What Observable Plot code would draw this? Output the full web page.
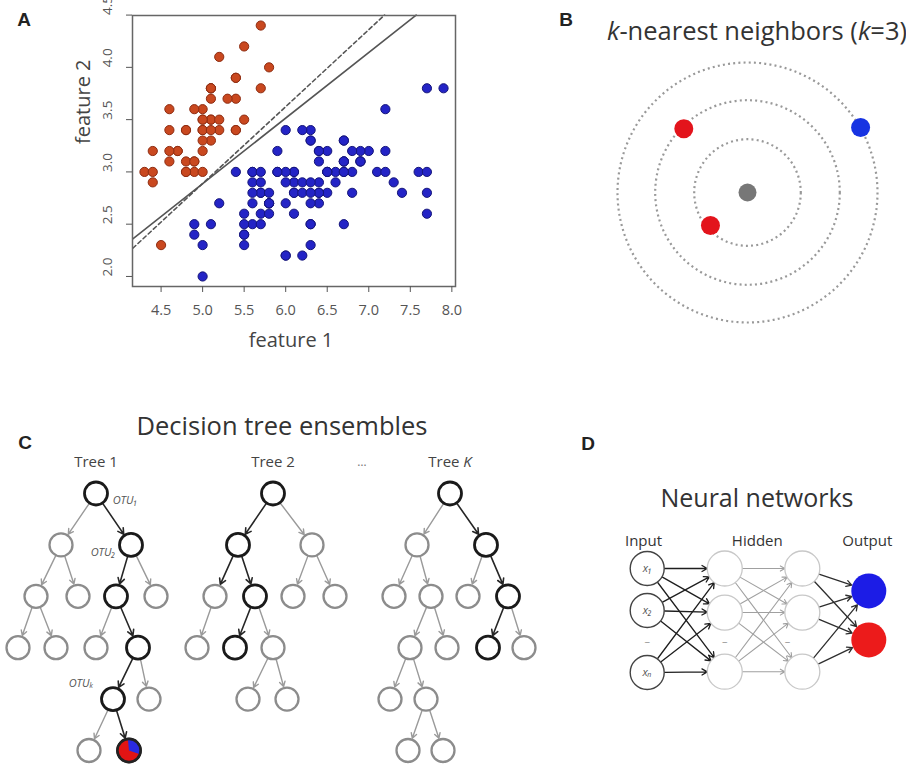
<!DOCTYPE html>
<html>
<head>
<meta charset="utf-8">
<script src="https://cdn.jsdelivr.net/npm/d3@7"></script>
<script src="https://cdn.jsdelivr.net/npm/@observablehq/plot@0.6"></script>
<style>
  html, body { margin: 0; padding: 0; background: #fff; }
  #fig { position: relative; width: 906px; height: 771px; overflow: hidden; background: #fff; font-family: "Open Sans", sans-serif; }
  .txt { position: absolute; white-space: nowrap; text-align: center; line-height: 1.2; }
</style>
</head>
<body>
<div id="fig"></div>
<script>
// ---------- Panel A: scatter (feature 1 vs feature 2) ----------
const classALength = [
  5.1,4.9,4.7,4.6,5.0,5.4,4.6,5.0,4.4,4.9,
  5.4,4.8,4.8,4.3,5.8,5.7,5.4,5.1,5.7,5.1,
  5.4,5.1,4.6,5.1,4.8,5.0,5.0,5.2,5.2,4.7,
  4.8,5.4,5.2,5.5,4.9,5.0,5.5,4.9,4.4,5.1,
  5.0,4.5,4.4,5.0,5.1,4.8,5.1,4.6,5.3,5.0];
const classAWidth = [
  3.5,3.0,3.2,3.1,3.6,3.9,3.4,3.4,2.9,3.1,
  3.7,3.4,3.0,3.0,4.0,4.4,3.9,3.5,3.8,3.8,
  3.4,3.7,3.6,3.3,3.4,3.0,3.4,3.5,3.4,3.2,
  3.1,3.4,4.1,4.2,3.1,3.2,3.5,3.6,3.0,3.4,
  3.5,2.3,3.2,3.5,3.8,3.0,3.8,3.2,3.7,3.3];
const classBLength = [
  7.0,6.4,6.9,5.5,6.5,5.7,6.3,4.9,6.6,5.2,
  5.0,5.9,6.0,6.1,5.6,6.7,5.6,5.8,6.2,5.6,
  5.9,6.1,6.3,6.1,6.4,6.6,6.8,6.7,6.0,5.7,
  5.5,5.5,5.8,6.0,5.4,6.0,6.7,6.3,5.6,5.5,
  5.5,6.1,5.8,5.0,5.6,5.7,5.7,6.2,5.1,5.7,
  6.3,5.8,7.1,6.3,6.5,7.6,4.9,7.3,6.7,7.2,
  6.5,6.4,6.8,5.7,5.8,6.4,6.5,7.7,7.7,6.0,
  6.9,5.6,7.7,6.3,6.7,7.2,6.2,6.1,6.4,7.2,
  7.4,7.9,6.4,6.3,6.1,7.7,6.3,6.4,6.0,6.9,
  6.7,6.9,5.8,6.8,6.7,6.7,6.3,6.5,6.2,5.9];
const classBWidth = [
  3.2,3.2,3.1,2.3,2.8,2.8,3.3,2.4,2.9,2.7,
  2.0,3.0,2.2,2.9,2.9,3.1,3.0,2.7,2.2,2.5,
  3.2,2.8,2.5,2.8,2.9,3.0,2.8,3.0,2.9,2.6,
  2.4,2.4,2.7,2.7,3.0,3.4,3.1,2.3,3.0,2.5,
  2.6,3.0,2.6,2.3,2.7,3.0,2.9,2.9,2.5,2.8,
  3.3,2.7,3.0,2.9,3.0,3.0,2.5,2.9,2.5,3.6,
  3.2,2.7,3.0,2.5,2.8,3.2,3.0,3.8,2.6,2.2,
  3.2,2.8,2.8,2.7,3.3,3.2,2.8,3.0,2.8,3.0,
  2.8,3.8,2.8,2.8,2.6,3.0,3.4,3.1,3.0,3.1,
  3.1,3.1,2.7,3.2,3.3,3.0,2.5,3.0,3.4,3.0];
const xTicks = [4.5, 5.0, 5.5, 6.0, 6.5, 7.0, 7.5, 8.0];
const yTicks = [2.0, 2.5, 3.0, 3.5, 4.0, 4.5];
const solidBoundaryX = [4.16, 7.57];
const solidBoundaryY = [2.36, 4.50];
const dashedBoundaryX = [4.16, 7.19];
const dashedBoundaryY = [2.27, 4.50];

// ---------- Panel B: k-nearest neighbours ----------
const queryPoint = [0, 0];
const neighborX = [-0.49, -0.285, 0.87];
const neighborY = [0.49, -0.254, 0.50];
const neighborColor = ["#e3141c", "#e3141c", "#1733e2"];
const searchRadii = [0.41, 0.71, 1.0];

// ---------- Panel C: decision tree ensembles ----------
const treeNames = ["Tree 1", "Tree 2", "Tree K"];
// [tree, node id, depth, horizontal offset from the root, on decision path]
const treeNodes = [
  ["Tree 1",0,0,0,1],["Tree 1",1,1,-35,0],["Tree 1",2,1,35,1],["Tree 1",3,2,-60,0],["Tree 1",4,2,-18,0],
  ["Tree 1",5,2,20,1],["Tree 1",6,2,60,0],["Tree 1",7,3,-78,0],["Tree 1",8,3,-40,0],["Tree 1",9,3,0,0],
  ["Tree 1",10,3,42,1],["Tree 1",11,4,17,1],["Tree 1",12,4,53,0],["Tree 1",13,5,-7,0],["Tree 1",14,5,33,1],
  ["Tree 2",0,0,0,1],["Tree 2",1,1,-35,1],["Tree 2",2,1,39,0],["Tree 2",3,2,-58,0],["Tree 2",4,2,-18,1],
  ["Tree 2",5,2,20,0],["Tree 2",6,2,62,0],["Tree 2",7,3,-76,0],["Tree 2",8,3,-38,1],["Tree 2",9,3,0,0],
  ["Tree 2",10,4,-25,0],["Tree 2",11,4,14,0],
  ["Tree K",0,0,0,1],["Tree K",1,1,-33,0],["Tree K",2,1,36,1],["Tree K",3,2,-56,0],["Tree K",4,2,-19,0],
  ["Tree K",5,2,18,0],["Tree K",6,2,58,1],["Tree K",7,3,-40,0],["Tree K",8,3,-3,0],["Tree K",9,3,38,1],
  ["Tree K",10,3,74,0],["Tree K",11,4,-60,0],["Tree K",12,4,-24,0],["Tree K",13,5,-42,0],["Tree K",14,5,-7,0]
];
// [tree, parent id, child id, on decision path]
const treeEdges = [
  ["Tree 1",0,1,0],["Tree 1",0,2,1],["Tree 1",1,3,0],["Tree 1",1,4,0],["Tree 1",2,5,1],["Tree 1",2,6,0],
  ["Tree 1",3,7,0],["Tree 1",3,8,0],["Tree 1",5,9,0],["Tree 1",5,10,1],["Tree 1",10,11,1],["Tree 1",10,12,0],
  ["Tree 1",11,13,0],["Tree 1",11,14,1],
  ["Tree 2",0,1,1],["Tree 2",0,2,0],["Tree 2",1,3,1],["Tree 2",1,4,1],["Tree 2",2,5,0],["Tree 2",2,6,0],
  ["Tree 2",3,7,0],["Tree 2",4,8,1],["Tree 2",4,9,0],["Tree 2",9,10,0],["Tree 2",9,11,0],
  ["Tree K",0,1,0],["Tree K",0,2,1],["Tree K",1,3,0],["Tree K",1,4,0],["Tree K",2,5,0],["Tree K",2,6,1],
  ["Tree K",4,7,0],["Tree K",4,8,0],["Tree K",6,9,1],["Tree K",6,10,0],["Tree K",7,11,0],["Tree K",7,12,0],
  ["Tree K",12,13,0],["Tree K",12,14,0]
];
const leafNode = ["Tree 1", 14];
const leafVoteShares = [0.68, 0.32]; // red, blue
const otuLabels = ["OTU\u2081", "OTU\u2082", "OTU\u2096"];
const otuOffset = [29, 7, -15];
const otuDepth = [0.14, 1.15, 3.7];

// ---------- Panel D: neural network ----------
const layerPosition = [0, 1.05, 2.1, 3];
const layerLabels = ["Input", "Hidden", "Output"];
const layerLabelPos = [-0.05, 1.49, 2.98];
const inputSlots = [0, 1.03, 2.55];
const inputLabels = ["x\u2081", "x\u2082", "x\u2099"];
const hiddenSlots = [0, 1.08, 2.53];
const outputSlots = [0.55, 1.75];
const outputColors = ["#1c1ce6", "#ec1b1b"];
const ellipsisPos = [0, 1.05, 1.9];
const ellipsisSlot = 1.8;

// ================= drawing =================
const fig = document.getElementById("fig");
function put(node, left, top) {
  node.style.position = "absolute";
  node.style.left = left + "px";
  node.style.top = top + "px";
  node.style.background = "transparent";
  node.style.maxWidth = "none";
  fig.append(node);
}
function label(html, cx, cy, size, opts = {}) {
  const d = document.createElement("div");
  d.className = "txt";
  d.innerHTML = html;
  d.style.fontFamily = opts.family || '"Open Sans", sans-serif';
  d.style.fontSize = size + "px";
  d.style.fontWeight = opts.weight || "normal";
  d.style.color = opts.color || "#333";
  d.style.width = "600px";
  const k = opts.k ?? 0.67;
  put(d, cx - 300, cy - k * size);
}

// Panel A
const panelA = Plot.plot({
  width: 470, height: 360,
  marginTop: 15, marginRight: 15, marginBottom: 74, marginLeft: 132,
  style: {fontFamily: '"Open Sans", sans-serif', color: "#555", background: "transparent"},
  x: {domain: [4.156, 8.044], axis: null},
  y: {domain: [1.904, 4.496], axis: null},
  marks: [
    Plot.line(solidBoundaryX, {x: solidBoundaryX, y: solidBoundaryY, stroke: "#555", strokeWidth: 1.6}),
    Plot.line(dashedBoundaryX, {x: dashedBoundaryX, y: dashedBoundaryY, stroke: "#555", strokeWidth: 1.6, strokeDasharray: "4,3"}),
    Plot.dot(classALength, {x: classALength, y: classAWidth, r: 4.6, fill: "#c9481f", stroke: "#8e2d12", strokeWidth: 1}),
    Plot.dot(classBLength, {x: classBLength, y: classBWidth, r: 4.6, fill: "#2424c6", stroke: "#15157a", strokeWidth: 1}),
    Plot.frame({stroke: "#666", strokeWidth: 1.5}),
    Plot.axisX(xTicks, {anchor: "bottom", tickSize: 6, tickPadding: 12, tickFormat: d => d.toFixed(1), fontSize: 14.5, fill: "#555"}),
    Plot.axisY(yTicks, {anchor: "left", tickSize: 6, tickFormat: () => ""}),
    Plot.text(yTicks, {y: d => d, text: d => d.toFixed(1), frameAnchor: "left", dx: -25, rotate: -90, fontSize: 13.5, fill: "#555"}),
    Plot.text(["feature 1"], {text: d => d, frameAnchor: "bottom", lineAnchor: "middle", dy: 54, dx: -3, fontSize: 20, fill: "#444"}),
    Plot.text(["feature 2"], {text: d => d, frameAnchor: "left", lineAnchor: "middle", dx: -49, dy: -7, rotate: -90, fontSize: 20, fill: "#444"})
  ]
});
put(panelA, 0, 0);

// Panel B
const panelB = Plot.plot({
  width: 316, height: 340, margin: 0,
  style: {background: "transparent"},
  x: {domain: [-157 / 130, 159 / 130], axis: null},
  y: {domain: [-148 / 130, 192 / 130], axis: null},
  r: {type: "linear", domain: [0, 1], range: [0, 130]},
  marks: [
    Plot.dot(searchRadii, {x: () => queryPoint[0], y: () => queryPoint[1], r: d => d, fill: "none", stroke: "#999", strokeWidth: 2.2, strokeDasharray: "2,3.2"}),
    Plot.dot(neighborX, {x: neighborX, y: neighborY, r: 9.5, fill: neighborColor}),
    Plot.dot([queryPoint], {x: d => d[0], y: d => d[1], r: 9, fill: "#777"})
  ]
});
put(panelB, 590, 0);

// Panel C
const nodeRows = treeNodes.map(([tree, id, depth, off, path]) => ({tree, id, depth, off, path}));
const nodeIndex = new Map(nodeRows.map(n => [n.tree + ":" + n.id, n]));
const edgeRows = treeEdges.map(([tree, a, b, path]) => ({tree, path, a: nodeIndex.get(tree + ":" + a), b: nodeIndex.get(tree + ":" + b)}));
const leafRow = nodeIndex.get(leafNode[0] + ":" + leafNode[1]);
const blueStart = -Math.PI / 2 - 0.1;
const blueWedge = {
  draw(context, size) {
    const r = Math.sqrt(size / Math.PI);
    context.moveTo(0, 0);
    context.arc(0, 0, r, blueStart, blueStart + 2 * Math.PI * leafVoteShares[1]);
    context.closePath();
  }
};
const edgeMark = (rows, stroke, sw) => Plot.arrow(rows, {
  fx: "tree", x1: d => d.a.off, y1: d => d.a.depth, x2: d => d.b.off, y2: d => d.b.depth,
  stroke, strokeWidth: sw, insetStart: 12.5, insetEnd: 13, headLength: 6
});
const panelC = Plot.plot({
  width: 580, height: 371,
  marginLeft: 6.5, marginRight: 42.5, marginTop: 0, marginBottom: 0,
  style: {fontFamily: '"Open Sans", sans-serif', background: "transparent"},
  fx: {domain: treeNames, padding: 0, axis: null},
  x: {domain: [-88.5, 88.5], axis: null},
  y: {domain: [0, 5], range: [93, 350], axis: null},
  marks: [
    edgeMark(edgeRows.filter(d => !d.path), "#9a9a9a", 1.4),
    edgeMark(edgeRows.filter(d => d.path), "#262626", 1.6),
    Plot.dot(nodeRows.filter(d => !d.path), {fx: "tree", x: "off", y: "depth", r: 11.5, fill: "white", stroke: "#8c8c8c", strokeWidth: 2.3}),
    Plot.dot(nodeRows.filter(d => d.path), {fx: "tree", x: "off", y: "depth", r: 11.5, fill: "white", stroke: "#1a1a1a", strokeWidth: 2.8}),
    Plot.dot([leafRow], {fx: "tree", x: "off", y: "depth", r: 11.5, fill: "#e21414"}),
    Plot.dot([leafRow], {fx: "tree", x: "off", y: "depth", r: 11.5, fill: "#2a2ae0", symbol: blueWedge}),
    Plot.dot([leafRow], {fx: "tree", x: "off", y: "depth", r: 11.5, fill: "none", stroke: "#222", strokeWidth: 2.4}),
    Plot.text(otuLabels, {fx: () => "Tree 1", x: otuOffset, y: otuDepth, text: d => d, fontSize: 11, fontStyle: "italic", fill: "#555"}),
    Plot.text(treeNames, {fx: d => d, text: d => d, frameAnchor: "top", lineAnchor: "middle", dy: 62, fontSize: 15, fill: "#444"})
  ]
});
d3.select(panelC).selectAll("text").filter(function () { return this.textContent === "Tree K"; })
  .each(function () { const t = d3.select(this); t.text("Tree "); t.append("tspan").attr("font-style", "italic").text("K"); });
put(panelC, 0, 400);

// Panel D
const [L0, L1, L2, L3] = layerPosition;
const inToHidden = d3.cross(inputSlots, hiddenSlots).map(([a, b]) => ({x1: L0, y1: a, x2: L1, y2: b}));
const hiddenToHidden = d3.cross(hiddenSlots, hiddenSlots).map(([a, b]) => ({x1: L1, y1: a, x2: L2, y2: b}));
const hiddenToOut = d3.cross(hiddenSlots, outputSlots).map(([a, b]) => ({x1: L2, y1: a, x2: L3, y2: b}));
const arrowOpts = (stroke, sw, insetStart, insetEnd) => ({x1: "x1", y1: "y1", x2: "x2", y2: "y2", stroke, strokeWidth: sw, insetStart, insetEnd, headLength: 7});
const panelD = Plot.plot({
  width: 326, height: 280, margin: 0,
  style: {fontFamily: '"Open Sans", sans-serif', background: "transparent"},
  x: {domain: [0, 3], range: [66.7, 288.3], axis: null},
  y: {domain: [0, 2.5], range: [148, 250], axis: null},
  marks: [
    Plot.arrow(hiddenToHidden, arrowOpts("#a0a0a0", 1.1, 17.5, 17.5)),
    Plot.arrow(inToHidden, arrowOpts("#1e1e1e", 1.3, 17.5, 17.5)),
    Plot.arrow(hiddenToOut, arrowOpts("#2e2e2e", 1.3, 17.5, 18)),
    Plot.dot(inputSlots, {x: () => L0, y: d => d, r: 17, fill: "white", stroke: "#444", strokeWidth: 1.4}),
    Plot.dot(hiddenSlots, {x: () => L1, y: d => d, r: 17.5, fill: "white", stroke: "#c8c8c8", strokeWidth: 1.3}),
    Plot.dot(hiddenSlots, {x: () => L2, y: d => d, r: 17.5, fill: "white", stroke: "#c8c8c8", strokeWidth: 1.3}),
    Plot.dot(outputSlots, {x: () => L3, y: d => d, r: 17.5, fill: outputColors}),
    Plot.text(inputSlots, {x: () => L0, y: d => d, text: (d, i) => inputLabels[i], fontSize: 11, fontStyle: "italic", fill: "#555"}),
    Plot.text(ellipsisPos, {x: d => d, y: () => ellipsisSlot, text: () => "\u2013", fontSize: 11, fill: "#999"}),
    Plot.text(layerLabels, {x: layerLabelPos, text: d => d, frameAnchor: "top", lineAnchor: "middle", dy: 121, fontSize: 15, fill: "#333"})
  ]
});
put(panelD, 580, 420);

// Titles and panel letters
const letterOpts = {family: '"Liberation Sans", Arial, sans-serif', weight: "bold", color: "#222", k: 0.589};
label("A", 24, 20, 19, letterOpts);
label("B", 566, 20, 19, letterOpts);
label("C", 25, 443, 19, letterOpts);
label("D", 588, 444, 19, letterOpts);
label("<i>k</i>-nearest neighbors (<i>k</i>=3)", 757, 32, 25.5);
label("Decision tree ensembles", 282, 427, 25.5);
label("Neural networks", 757, 499, 25);
label("\u2026", 362, 463, 12, {color: "#777"});
</script>
</body>
</html>
